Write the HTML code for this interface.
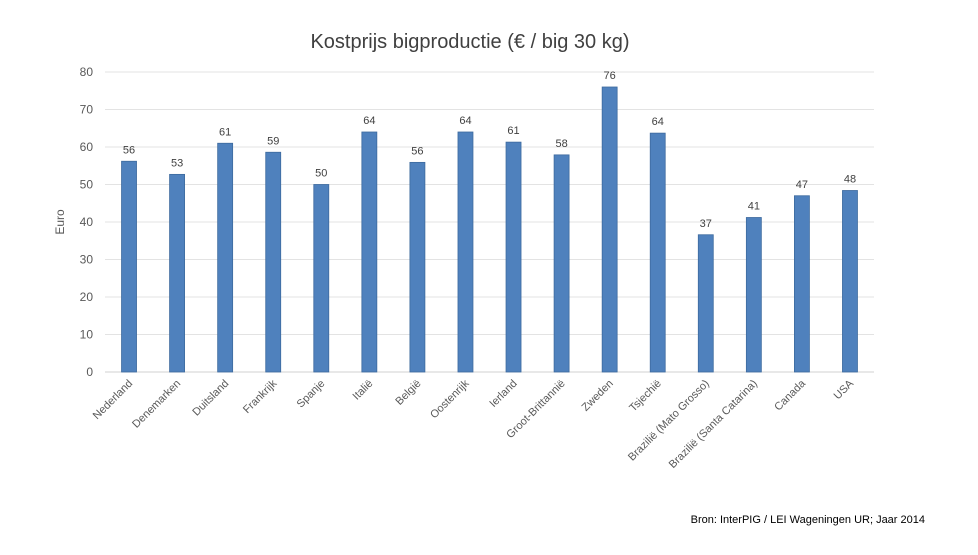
<!DOCTYPE html>
<html><head><meta charset="utf-8"><style>
body{margin:0;background:#fff;font-family:"Liberation Sans",sans-serif}
svg text{font-family:"Liberation Sans",sans-serif}
</style></head><body>
<svg id="c" width="978" height="550">
<text x="470" y="48" text-anchor="middle" font-size="20" fill="#404040">Kostprijs bigproductie (€ / big 30 kg)</text>
<text transform="translate(64,222) rotate(-90)" text-anchor="middle" font-size="12" fill="#595959">Euro</text>
<text x="925" y="523" text-anchor="end" font-size="11" fill="#000">Bron: InterPIG / LEI Wageningen UR; Jaar 2014</text>
<g id="grid"></g><g id="bars"></g><g id="labels"></g>
</svg>
<script>
const categories=["Nederland","Denemarken","Duitsland","Frankrijk","Spanje","Italië","België","Oostenrijk","Ierland","Groot-Brittannië","Zweden","Tsjechië","Brazilië (Mato Grosso)","Brazilië (Santa Catarina)","Canada","USA"];
const values=[56.2,52.7,61,58.6,50,64,55.9,64,61.3,57.9,76,63.7,36.6,41.2,47,48.4];
const valueLabels=["56","53","61","59","50","64","56","64","61","58","76","64","37","41","47","48"];
const yTicks=[0,10,20,30,40,50,60,70,80];
const NS="http://www.w3.org/2000/svg";
const x0=105,x1=874,y0=372,yTop=72,yMax=80;
const step=(x1-x0)/categories.length;
const xC=i=>x0+step*(i+0.5);
const yS=v=>y0-(v/yMax)*(y0-yTop);
function mk(t,a,p){const e=document.createElementNS(NS,t);for(const k in a)e.setAttribute(k,a[k]);p.appendChild(e);return e;}
const g=document.getElementById('grid'),b=document.getElementById('bars'),l=document.getElementById('labels');
yTicks.forEach(v=>{
 const ln=mk('line',{x1:x0,x2:x1,y1:yS(v),y2:yS(v),stroke:v===0?'#d0d0d0':'#e3e3e3','stroke-width':1},g);
 
 
 const t=mk('text',{x:93,y:yS(v)+4,'text-anchor':'end','font-size':12,fill:'#595959'},g);
 t.textContent=v;
 
 
});
categories.forEach((c,i)=>{
 const cx=xC(i),y=yS(values[i]);
 const r=mk('rect',{x:cx-7.5,y:y,width:15,height:y0-y,fill:'#4f81bd',stroke:'#3d6a9e','stroke-width':0.8},b);
 
 
 const vt=mk('text',{x:cx,y:y-8,'text-anchor':'middle','font-size':11,fill:'#404040'},l);
 vt.textContent=valueLabels[i];
 
 
 const ct=mk('text',{transform:`translate(${cx+4},${y0+12}) rotate(-45)`,'text-anchor':'end','font-size':11,fill:'#595959'},l);
 ct.textContent=c;
 
 
});
</script>
</body></html>
